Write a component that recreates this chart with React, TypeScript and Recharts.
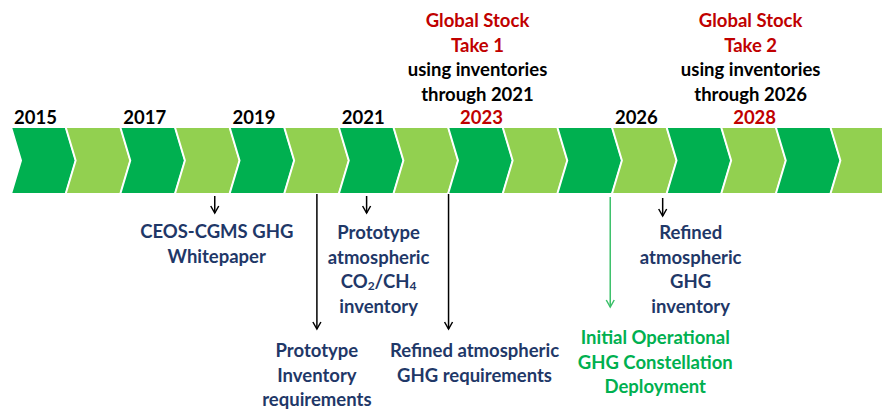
import React from "react"
import { Bar, ComposedChart, ReferenceLine, XAxis, YAxis } from "recharts"

// one chevron per year
const years = [
  2015, 2016, 2017, 2018, 2019, 2020, 2021, 2022,
  2023, 2024, 2025, 2026, 2027, 2028, 2029, 2030,
]
const yearLabels = [
  "2015", "", "2017", "", "2019", "", "2021", "",
  "2023", "", "", "2026", "", "2028", "", "",
]
const stockTakeYears = [2023, 2028]
const stockTakeTitles = [
  ["Global Stock", "Take 1"],
  ["Global Stock", "Take 2"],
]
const stockTakeNotes = [
  ["using inventories", "through 2021"],
  ["using inventories", "through 2026"],
]

// milestones, placed on a continuous year axis
const eventYears = [2018.73, 2020.6, 2021.51, 2023.01, 2025.97, 2026.93]
const eventLabels = [
  ["CEOS-CGMS GHG", "Whitepaper"],
  ["Prototype", "Inventory", "requirements"],
  ["Prototype", "atmospheric", "CO_2/CH_4", "inventory"],
  ["Refined atmospheric", "GHG requirements"],
  ["Initial Operational", "GHG Constellation", "Deployment"],
  ["Refined", "atmospheric", "GHG", "inventory"],
]
const eventKinds = ["doc", "doc", "doc", "doc", "launch", "doc"]

// layout only: arrow start/end below band, text offset and first line below band
const eventLayout = [
  { a0: 2, a1: 19, dx: 2, ty: 37 },
  { a0: 0, a1: 135, dx: 0, ty: 156 },
  { a0: 2, a1: 19, dx: 12, ty: 38 },
  { a0: 0, a1: 135, dx: 26, ty: 156 },
  { a0: 3, a1: 113, dx: 45, ty: 143 },
  { a0: 4, a1: 22, dx: 28, ty: 38 },
]

const DARK = "#00B050"
const LIGHT = "#92D050"
const RED = "#C00000"
const NAVY = "#1F3868"
const GREEN_TEXT = "#00B050"
const FONT = "Lato, 'Open Sans', sans-serif"
const FS = 18.5
const LINE = 24.5
const TIP = 10

const data = years.map((year, i) => ({ year, v: 1, label: yearLabels[i] }))

const renderLine = (line: string) => {
  const parts = line.split(/_(\d)/)
  if (parts.length === 1) return line
  return parts.map((p, i) =>
    i % 2 === 1 ? (
      <tspan key={i} dy={4} fontSize={12}>
        {p}
      </tspan>
    ) : (
      <tspan key={i} dy={i === 0 ? 0 : -4}>
        {p}
      </tspan>
    )
  )
}

const Chevron = (props: any) => {
  const { x, y, width: w, height: h, index, payload } = props
  const mid = y + h / 2
  const pts = [
    [x, y],
    [x + w, y],
    [x + w + TIP, mid],
    [x + w, y + h],
    [x, y + h],
    [x + TIP, mid],
  ]
    .map((p) => p.join(","))
    .join(" ")
  const cx = x + w / 2
  const st = stockTakeYears.indexOf(payload.year)
  return (
    <g>
      <polygon
        points={pts}
        fill={index % 2 === 0 ? DARK : LIGHT}
        stroke="#fff"
        strokeWidth={2}
      />
      {payload.label && (
        <text
          x={st >= 0 ? cx + 6 : cx - 3}
          y={y - 10}
          textAnchor="middle"
          dominantBaseline="central"
          fontFamily={FONT}
          fontWeight={700}
          fontSize={FS}
          fill={st >= 0 ? RED : "#000"}
        >
          {payload.label}
        </text>
      )}
      {st >= 0 &&
        [...stockTakeTitles[st], ...stockTakeNotes[st]].map((line, k) => (
          <text
            key={k}
            x={cx + 2}
            y={20 + k * LINE}
            textAnchor="middle"
            dominantBaseline="central"
            fontFamily={FONT}
            fontWeight={700}
            fontSize={FS}
            fill={k < 2 ? RED : "#000"}
          >
            {line}
          </text>
        ))}
    </g>
  )
}

const EventMark = ({ p, i }: { p: any; i: number }) => {
  const px = p.x1
  const base = Math.max(p.y1, p.y2)
  const lay = eventLayout[i]
  const launch = eventKinds[i] === "launch"
  const stroke = launch ? "#3CC06A" : "#000"
  const tipY = base + lay.a1
  return (
    <g>
      <line x1={px} y1={base + lay.a0} x2={px} y2={tipY} stroke={stroke} strokeWidth={1.5} />
      <polyline
        points={`${px - 4},${tipY - 7} ${px},${tipY} ${px + 4},${tipY - 7}`}
        fill="none"
        stroke={stroke}
        strokeWidth={1.5}
      />
      {eventLabels[i].map((line, k) => (
        <text
          key={k}
          x={px + lay.dx}
          y={base + lay.ty + k * LINE}
          textAnchor="middle"
          dominantBaseline="central"
          fontFamily={FONT}
          fontWeight={700}
          fontSize={FS}
          fill={launch ? GREEN_TEXT : NAVY}
        >
          {renderLine(line)}
        </text>
      ))}
    </g>
  )
}

export default function App() {
  return (
    <div
      style={{
        position: "absolute",
        left: 0,
        top: 0,
        width: 882,
        height: 410,
        overflow: "hidden",
        background: "#fff",
      }}
    >
      <ComposedChart
        width={882}
        height={410}
        data={data}
        margin={{ top: 127, right: -3, bottom: 216, left: 11 }}
        barCategoryGap={0}
        barGap={0}
        style={{ overflow: "visible" }}
      >
        {/* each year's chevron spans [year, year + 1] */}
        <XAxis
          dataKey={(d: any) => d.year + 0.5}
          type="number"
          domain={[2015, 2031]}
          hide
        />
        <YAxis domain={[0, 1]} hide />
        <Bar dataKey="v" shape={(p: any) => <Chevron {...p} />} isAnimationActive={false} />
        {eventYears.map((yr, i) => (
          <ReferenceLine
            key={i}
            x={yr}
            shape={(p: any) => <EventMark p={p} i={i} />}
          />
        ))}
      </ComposedChart>
    </div>
  )
}
